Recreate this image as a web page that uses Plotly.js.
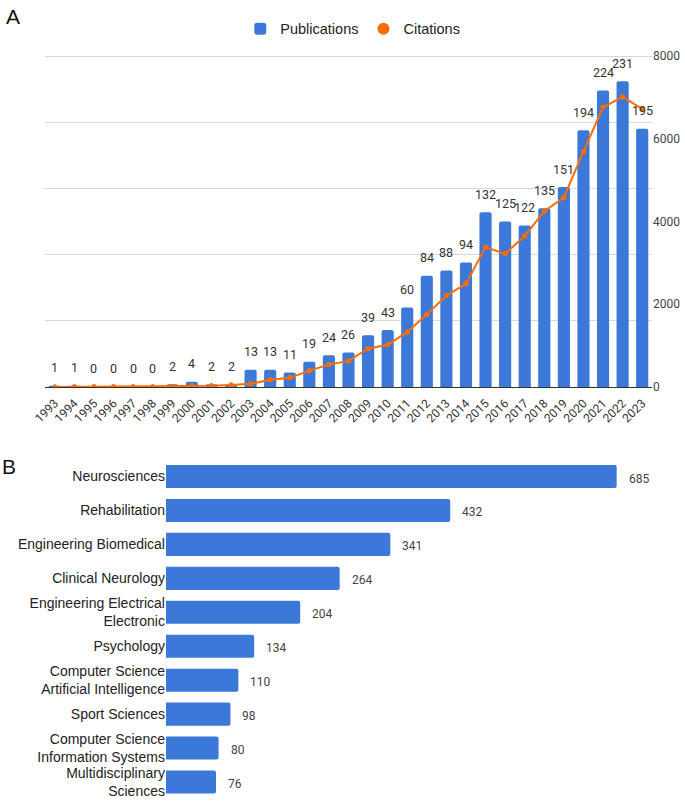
<!DOCTYPE html>
<html>
<head>
<meta charset="utf-8">
<script src="https://cdn.plot.ly/plotly-3.0.1.min.js"></script>
<style>html,body{margin:0;padding:0;background:#fff;}#chart{width:685px;height:801px;}</style>
</head>
<body>
<div id="chart"></div>
<script>
// ---- Panel A data ----
const years = ['1993','1994','1995','1996','1997','1998','1999','2000','2001','2002','2003','2004','2005','2006','2007','2008','2009','2010','2011','2012','2013','2014','2015','2016','2017','2018','2019','2020','2021','2022','2023'];
const publications = [1,1,0,0,0,0,2,4,2,2,13,13,11,19,24,26,39,43,60,84,88,94,132,125,122,135,151,194,224,231,195];
const citations = [1,3,4,5,6,8,12,25,30,45,75,175,220,395,540,630,925,1020,1330,1750,2210,2495,3380,3220,3650,4250,4580,5690,6760,7010,6720];

// ---- Panel B data ----
const categories = ['Neurosciences','Rehabilitation','Engineering Biomedical','Clinical Neurology','Engineering Electrical<br>Electronic','Psychology','Computer Science<br>Artificial Intelligence','Sport Sciences','Computer Science<br>Information Systems','Multidisciplinary<br>Sciences'];
const counts = [685,432,341,264,204,134,110,98,80,76];

const BLUE = '#3c78d8';
const ORANGE = '#ff6d01';

const traces = [
  {
    type: 'bar', name: 'Publications', x: years, y: publications,
    xaxis: 'x', yaxis: 'y', width: 0.62,
    marker: {color: BLUE, cornerradius: 2}
  },
  {
    type: 'scatter', mode: 'lines+markers', name: 'Citations', x: years, y: citations,
    xaxis: 'x', yaxis: 'y2', showlegend: false,
    line: {color: ORANGE, width: 2},
    marker: {color: ORANGE, size: 5}
  },
  {
    type: 'scatter', mode: 'markers', name: 'Citations', x: years, y: citations,
    xaxis: 'x', yaxis: 'y2', showlegend: true,
    marker: {color: ORANGE, size: 5}, hoverinfo: 'skip'
  },
  {
    type: 'bar', orientation: 'h', name: 'Categories', x: counts, y: categories,
    xaxis: 'x2', yaxis: 'y3', width: 0.68, showlegend: false,
    marker: {color: BLUE, cornerradius: 2}
  }
];

// value labels above the bars (x given as category index on the category axis)
const pubLabels = years.map((yr, i) => ({
  x: i, y: publications[i], xref: 'x', yref: 'y', text: String(publications[i]),
  showarrow: false, xanchor: 'center', yanchor: 'middle', yshift: 18,
  font: {family: 'Roboto, sans-serif', size: 12.5, color: '#333'}
}));
const catLabels = categories.map((c, i) => ({
  x: counts[i], y: i, xref: 'x2', yref: 'y3', text: String(counts[i]),
  showarrow: false, xanchor: 'left', yanchor: 'middle', xshift: 10, yshift: -2,
  font: {family: 'Roboto, sans-serif', size: 12, color: '#444'}
}));

const layout = {
  width: 685, height: 801,
  margin: {l: 0, r: 0, t: 0, b: 0},
  paper_bgcolor: '#fff', plot_bgcolor: '#fff',
  font: {family: 'Roboto, sans-serif', color: '#333'},
  showlegend: true,
  legend: {
    orientation: 'h', x: 0.515, xanchor: 'center', y: 0.964, yanchor: 'middle',
    font: {family: 'Liberation Sans, Arial, sans-serif', size: 14.5, color: '#222'},
    itemwidth: 30, itemsizing: 'constant', traceorder: 'normal',
    bgcolor: 'rgba(0,0,0,0)'
  },
  xaxis: {
    domain: [0.0657, 0.9518], anchor: 'y', type: 'category', range: [-0.5, years.length - 0.5],
    autorange: false,
    tickangle: -45, tickfont: {family: 'Roboto, sans-serif', size: 12, color: '#333'},
    ticklabelstandoff: 3,
    showline: true, linecolor: '#333', linewidth: 1.5, ticks: '', showgrid: false, zeroline: false
  },
  yaxis: {
    domain: [0.5169, 0.93258], anchor: 'x', range: [0, 251.51], autorange: false,
    tickvals: [0, 50, 100, 150, 200, 250],
    showticklabels: false, gridcolor: '#d9d9d9', gridwidth: 1, zeroline: false, ticks: ''
  },
  yaxis2: {
    overlaying: 'y', side: 'right', anchor: 'x', range: [0, 8048.3], autorange: false,
    tickvals: [0, 2000, 4000, 6000, 8000],
    showgrid: false, zeroline: false, ticks: '',
    tickfont: {family: 'Roboto, sans-serif', size: 12, color: '#444'}
  },
  xaxis2: {
    domain: [0.2423, 0.9723], anchor: 'y3', range: [0, 760], autorange: false, visible: false
  },
  yaxis3: {
    domain: [0.0025, 0.4263], anchor: 'x2', type: 'category',
    range: [categories.length - 0.5, -0.5], autorange: false,
    ticks: '', showgrid: false, showline: false, zeroline: false,
    tickfont: {family: 'Liberation Sans, Arial, sans-serif', size: 14, color: '#222'}
  },
  annotations: [
    {text: 'A', xref: 'paper', yref: 'paper', x: 0.006, y: 0.980, xanchor: 'left', yanchor: 'middle',
     showarrow: false, font: {family: 'Liberation Sans, Arial, sans-serif', size: 21, color: '#111'}},
    {text: 'B', xref: 'paper', yref: 'paper', x: 0.0, y: 0.418, xanchor: 'left', yanchor: 'middle',
     showarrow: false, font: {family: 'Liberation Sans, Arial, sans-serif', size: 21, color: '#111'}}
  ].concat(pubLabels, catLabels)
};

Plotly.newPlot('chart', traces, layout, {displayModeBar: false, staticPlot: true});
</script>
</body>
</html>
